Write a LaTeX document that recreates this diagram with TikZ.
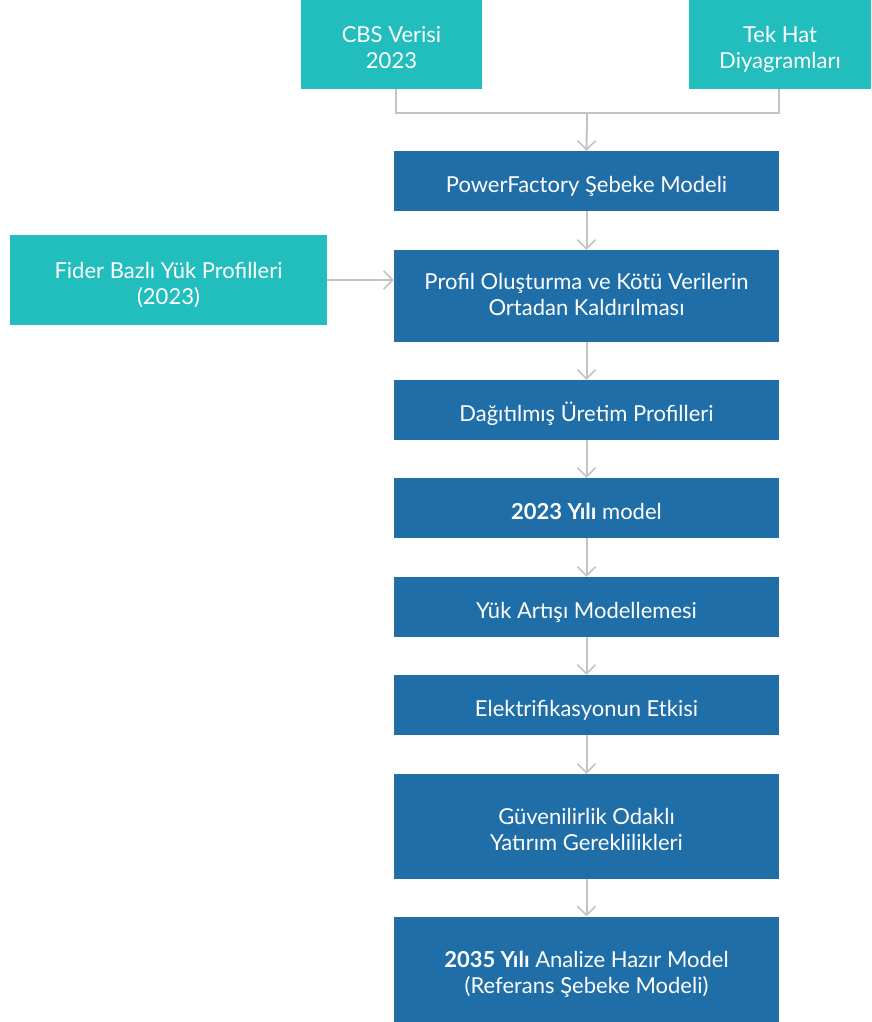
\documentclass[tikz,border=0pt]{standalone}
\usepackage{fontspec}
\setmainfont{Lato}
\usetikzlibrary{arrows.meta,positioning}
\definecolor{teal1}{HTML}{22BEBD}
\definecolor{blue1}{HTML}{1F6EA8}
\definecolor{gray1}{HTML}{C3C3C3}
\newcommand\Tstr{\rule{0pt}{28pt}}
\newcommand\Bstr{\rule[-6pt]{0pt}{0pt}}
\tikzset{
  box/.style={draw=none, inner sep=0pt, text=white, align=center, font=\fontsize{22}{26}\selectfont},
  srcbox/.style={box, fill=teal1},
  stepbox/.style={box, fill=blue1},
  conn/.style={draw=gray1, line width=2pt},
  arr/.style={conn, -{Straight Barb[length=9pt,width=18pt,line width=1.6pt]}},
}
\begin{document}
\begin{tikzpicture}[x=1pt,y=-1pt]
\useasboundingbox (0,0) rectangle (871,1022);
\node[srcbox, minimum width=181pt, minimum height=89pt] (cbs) at (391.5,44.5) {\Tstr CBS Verisi\\2023\Bstr};
\node[srcbox, minimum width=182pt, minimum height=89pt] (tek) at (780,44.5) {\Tstr Tek Hat\\Diyagramları\Bstr};
\node[srcbox, minimum width=317pt, minimum height=90pt] (fider) at (168.5,280) {\Tstr Fider Bazlı Yük Profilleri\\(2023)\Bstr};
\node[stepbox, minimum width=385pt, minimum height=60pt] (pf) at (586.5,181) {\Tstr\Bstr PowerFactory Şebeke Modeli};
\node[stepbox, minimum width=385pt, minimum height=92pt] (prof) at (586.5,296) {\Tstr Profil Oluşturma ve Kötü Verilerin\\Ortadan Kaldırılması\rule[-15pt]{0pt}{0pt}};
\node[stepbox, minimum width=385pt, minimum height=60pt] (dag) at (586.5,410) {\Tstr\Bstr Dağıtılmış Üretim Profilleri};
\node[stepbox, minimum width=385pt, minimum height=60pt] (y23) at (586.5,508) {\Tstr\Bstr\textbf{2023 Yılı} model};
\node[stepbox, minimum width=385pt, minimum height=60pt] (yuk) at (586.5,607) {\Tstr\Bstr Yük Artışı Modellemesi};
\node[stepbox, minimum width=385pt, minimum height=60pt] (ele) at (586.5,705) {\Tstr\Bstr Elektrifikasyonun Etkisi};
\node[stepbox, minimum width=385pt, minimum height=105pt] (guv) at (586.5,826.5) {\Tstr Güvenilirlik Odaklı\\Yatırım Gereklilikleri\Bstr};
\node[stepbox, minimum width=385pt, minimum height=105pt] (y35) at (586.5,969) {\Tstr\textbf{2035 Yılı} Analize Hazır Model\\(Referans Şebeke Modeli)\Bstr};
\coordinate (join) at (587,113);
\draw[conn] ([xshift=4pt]cbs.south) |- (join) -| ([xshift=-1pt]tek.south);
\draw[arr] (join) -- (pf.north);
\draw[arr] (fider.east) -- (fider.east -| prof.west);
\draw[arr] (pf.south) -- (prof.north);
\draw[arr] (prof.south) -- (dag.north);
\draw[arr] (dag.south) -- (y23.north);
\draw[arr] (y23.south) -- (yuk.north);
\draw[arr] (yuk.south) -- (ele.north);
\draw[arr] (ele.south) -- (guv.north);
\draw[arr] (guv.south) -- (y35.north);
\end{tikzpicture}
\end{document}
